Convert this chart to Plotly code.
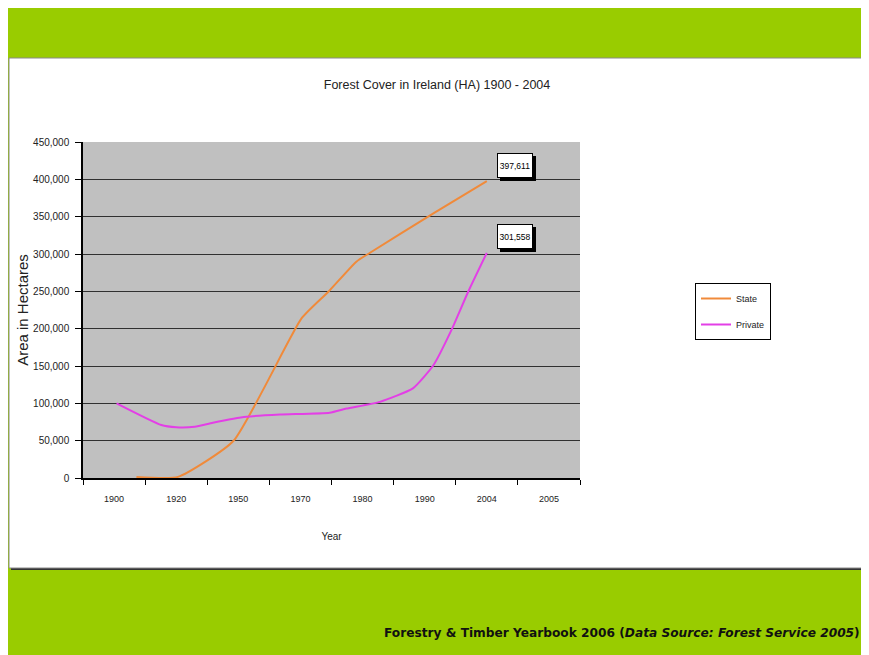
import plotly.graph_objects as go

# ---- data ----
CATEGORIES = ["1900", "1920", "1950", "1970", "1980", "1990", "2004", "2005"]
CAT_POS = [0, 1, 2, 3, 4, 5, 6, 7]
CAT_BOUNDS = [-0.5, 0.5, 1.5, 2.5, 3.5, 4.5, 5.5, 6.5, 7.5]

# positions along the category axis (category units) and hectares
STATE_X = [0.36, 1.03, 1.92, 3.02, 3.45, 3.90, 4.12, 5.14, 6.0]
STATE_Y = [1500, 1500, 49500, 214000, 249500, 289700, 301700, 354500, 397611]

PRIVATE_X = [0.04, 0.76, 1.0, 1.30, 1.59, 2.13, 2.67, 3.47, 3.74, 4.28,
             4.81, 5.14, 5.43, 5.70, 6.0]
PRIVATE_Y = [100000, 71000, 68000, 68700, 74000, 82000, 85000, 87500, 93000,
             102000, 120000, 151000, 198000, 249500, 301558]

Y_TICKS = [0, 50000, 100000, 150000, 200000, 250000, 300000, 350000, 400000, 450000]
Y_TICKTEXT = ["0" if v == 0 else f"{v:,}" for v in Y_TICKS]

OFF = 8                       # page margin of the browser
W, H = 869 - OFF, 655 - OFF
PL, PR, PT, PB = 83, 580, 142, 478   # plot area in reference pixels
L, T = PL - OFF, PT - OFF
R, B = W - (PR - OFF), H - (PB - OFF)
PW, PH = PR - PL, PB - PT

def px_x(p):
    return (p - PL) / PW

def px_y(p):
    return (PB - p) / PH

FONT = "Liberation Sans, Arial, sans-serif"
ORANGE = "#F08A3A"
MAGENTA = "#E33FE6"

fig = go.Figure()
fig.add_trace(go.Scatter(x=STATE_X, y=STATE_Y, mode="lines", name="State",
                         legendgroup="a",
                         line=dict(color=ORANGE, width=2, shape="spline", smoothing=0.5)))
fig.add_trace(go.Scatter(x=PRIVATE_X, y=PRIVATE_Y, mode="lines", name="Private",
                         legendgroup="b",
                         line=dict(color=MAGENTA, width=2, shape="spline", smoothing=0.5)))

shapes = [
    # frame shadow
    dict(type="rect", xref="paper", yref="paper", layer="below",
         x0=px_x(11), x1=px_x(867), y0=px_y(570), y1=px_y(60),
         fillcolor="#333333", line=dict(width=0)),
    # white chart frame
    dict(type="rect", xref="paper", yref="paper", layer="below",
         x0=px_x(9), x1=px_x(865), y0=px_y(568), y1=px_y(58),
         fillcolor="white", line=dict(color="#8a8a8a", width=1)),
    # grey plot area
    dict(type="rect", xref="paper", yref="paper", layer="below",
         x0=0, x1=1, y0=0, y1=1, fillcolor="#C0C0C0", line=dict(width=0)),
]

annotations = []
# data labels with drop shadow
for xv, yv in [(STATE_X[-1], STATE_Y[-1]), (PRIVATE_X[-1], PRIVATE_Y[-1])]:
    txt = f"{yv:,}"
    annotations.append(dict(x=xv, y=yv, xref="x", yref="y", text=" ", showarrow=False,
                            xanchor="left", yanchor="middle", xshift=13, yshift=13,
                            width=32, height=21,
                            font=dict(family=FONT, size=8.5, color="black"),
                            bgcolor="black", bordercolor="black", borderwidth=1, borderpad=1))
    annotations.append(dict(x=xv, y=yv, xref="x", yref="y", text=txt, showarrow=False,
                            xanchor="left", yanchor="middle", xshift=10, yshift=16,
                            width=32, height=21,
                            font=dict(family=FONT, size=8.5, color="black"),
                            bgcolor="white", bordercolor="black", borderwidth=1, borderpad=1))

annotations.append(dict(
    x=px_x(862), y=px_y(633), xref="paper", yref="paper", showarrow=False,
    xanchor="right", yanchor="middle",
    text="<b>Forestry &amp; Timber Yearbook 2006 (<i>Data Source: Forest Service 2005</i>)</b>",
    font=dict(family="DejaVu Sans, Verdana, sans-serif", size=12.2, color="#111111")))

fig.update_layout(
    width=W, height=H,
    margin=dict(l=L, r=R, t=T, b=B, pad=0),
    paper_bgcolor="#99CC00",
    plot_bgcolor="#C0C0C0",
    font=dict(family=FONT, size=9, color="#222222"),
    title=dict(text="Forest Cover in Ireland (HA) 1900 - 2004",
               x=(437 - OFF) / W, xanchor="center", y=1 - (85 - OFF) / H, yanchor="middle",
               font=dict(family=FONT, size=12.5, color="#222222")),
    xaxis=dict(range=[-0.5, 7.5], tickvals=CAT_POS, ticktext=CATEGORIES,
               ticks="", showgrid=False, zeroline=False,
               showline=True, linecolor="black", linewidth=1.5,
               ticklabelstandoff=11,
               tickfont=dict(family=FONT, size=9, color="#222222"),
               title=dict(text="Year", standoff=30,
                          font=dict(family=FONT, size=10, color="#222222")),
               minor=dict(tickvals=CAT_BOUNDS, ticks="outside", ticklen=5,
                          tickcolor="black", tickwidth=1, showgrid=False)),
    yaxis=dict(range=[0, 450000], tickvals=Y_TICKS, ticktext=Y_TICKTEXT,
               ticks="outside", ticklen=6, tickcolor="black",
               showgrid=True, gridcolor="#303030", gridwidth=1,
               zeroline=False, showline=True, linecolor="black", linewidth=1.5,
               ticklabelstandoff=4,
               tickfont=dict(family=FONT, size=10, color="#222222"),
               title=dict(text="Area in Hectares", standoff=1,
                          font=dict(family=FONT, size=15, color="#222222"))),
    legend=dict(x=px_x(695), y=px_y(283), xanchor="left", yanchor="top",
                bgcolor="white", bordercolor="black", borderwidth=1,
                itemwidth=30, traceorder="grouped", tracegroupgap=7,
                font=dict(family=FONT, size=9, color="#222222")),
    shapes=shapes,
    annotations=annotations,
    showlegend=True,
)

fig.write_html("out.html")
